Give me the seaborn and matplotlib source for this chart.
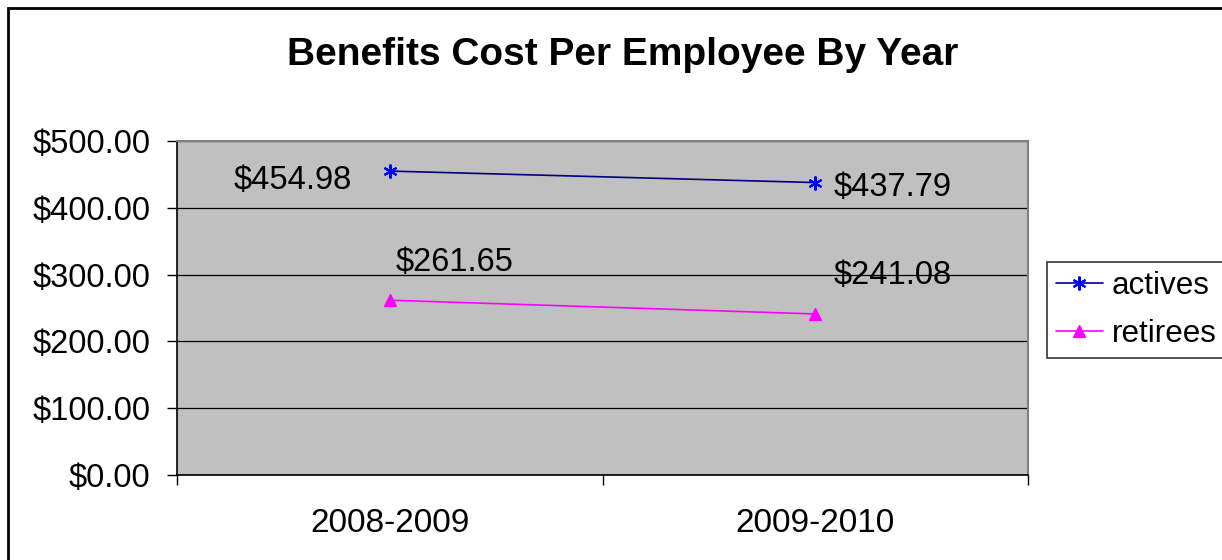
import matplotlib
matplotlib.use("Agg")
import matplotlib.pyplot as plt
from matplotlib.patches import Rectangle
from matplotlib.lines import Line2D
import seaborn as sns
import pandas as pd

years = ["2008-2009", "2009-2010"]
actives = [454.98, 437.79]
retirees = [261.65, 241.08]
y_ticks = [0, 100, 200, 300, 400, 500]

sns.set_theme(style="white")
plt.rcParams["font.family"] = ["Liberation Sans", "DejaVu Sans"]
plt.rcParams.update({
    "text.color": "black",
    "axes.labelcolor": "black",
    "xtick.color": "black",
    "ytick.color": "black",
})

df = pd.DataFrame({
    "year": years * 2,
    "cost": actives + retirees,
    "group": ["actives"] * 2 + ["retirees"] * 2,
})

fig = plt.figure(figsize=(12.22, 5.6), dpi=100)
fig.patch.set_facecolor("white")
ax = fig.add_axes([177 / 1222, 1 - 475 / 560, 851 / 1222, 334 / 560])
ax.set_facecolor("#C0C0C0")

line_colors = {"actives": "#000080", "retirees": "#FF00FF"}
sns.lineplot(data=df, x="year", y="cost", hue="group", palette=line_colors,
             ax=ax, legend=False, linewidth=1.2, sort=False)

# markers drawn on top of the lines
xa = [0, 1]
ax.plot(xa, actives, linestyle="none", marker=(6, 2, 0), markersize=10,
        markeredgecolor="#0000FF", markeredgewidth=1.5, zorder=4)
ax.plot(xa, retirees, linestyle="none", marker="^", markersize=9,
        color="#FF00FF", zorder=4)

FS = 23.5

ax.set_xlim(-0.5, 1.5)
ax.set_ylim(0, 500)
ax.set_yticks(y_ticks)
ax.set_yticklabels([f"${v:,.2f}" for v in y_ticks], fontsize=FS)
ax.yaxis.grid(True, color="black", linewidth=0.9)
ax.set_axisbelow(True)

ax.set_xticks([-0.5, 0.5, 1.5])
ax.set_xticklabels([])
ax.set_xticks([0, 1], minor=True)
ax.set_xticklabels(years, minor=True, fontsize=24)
ax.tick_params(axis="x", which="minor", length=0, pad=24)
ax.tick_params(axis="x", which="major", direction="out", length=7, width=1,
               color="black", bottom=True)
ax.tick_params(axis="y", direction="out", length=7, width=1, color="black",
               left=True, pad=12)
ax.set_xlabel("")
ax.set_ylabel("")

for side in ["left", "bottom"]:
    ax.spines[side].set_color("black")
    ax.spines[side].set_linewidth(1.2)
for side in ["top", "right"]:
    ax.spines[side].set_color("#808080")
    ax.spines[side].set_linewidth(1.5)

# value labels
ax.annotate(f"${actives[0]:.2f}", (0, actives[0]), xytext=(-27, -6.5),
            textcoords="offset points", ha="right", va="center", fontsize=FS)
ax.annotate(f"${actives[1]:.2f}", (1, actives[1]), xytext=(13, -3.5),
            textcoords="offset points", ha="left", va="center", fontsize=FS)
ax.annotate(f"${retirees[0]:.2f}", (0, retirees[0]), xytext=(4, 27),
            textcoords="offset points", ha="left", va="center", fontsize=FS)
ax.annotate(f"${retirees[1]:.2f}", (1, retirees[1]), xytext=(13, 28),
            textcoords="offset points", ha="left", va="center", fontsize=FS)

fig.text(623 / 1222, 1 - 55 / 560, "Benefits Cost Per Employee By Year",
         ha="center", va="center", fontsize=28, fontweight="bold")

handles = [
    Line2D([], [], color="#000080", linewidth=1.2, marker=(6, 2, 0),
           markersize=10, markeredgecolor="#0000FF", markeredgewidth=1.5),
    Line2D([], [], color="#FF00FF", linewidth=1.2, marker="^", markersize=9),
]
leg = fig.legend(handles, ["actives", "retirees"], loc="upper left",
                 bbox_to_anchor=(1047 / 1222, 1 - 262 / 560), fontsize=22.6,
                 frameon=True, fancybox=False, edgecolor="black",
                 handlelength=1.47, handletextpad=0.3, borderpad=0.3,
                 labelspacing=0.55, borderaxespad=0)
leg.get_frame().set_linewidth(1.2)

fig.patches.append(Rectangle((8 / 1222, -0.2), 1.2, 1.2 - 8 / 560,
                             transform=fig.transFigure, fill=False,
                             edgecolor="black", linewidth=2))

fig.savefig("out.png", dpi=100)
